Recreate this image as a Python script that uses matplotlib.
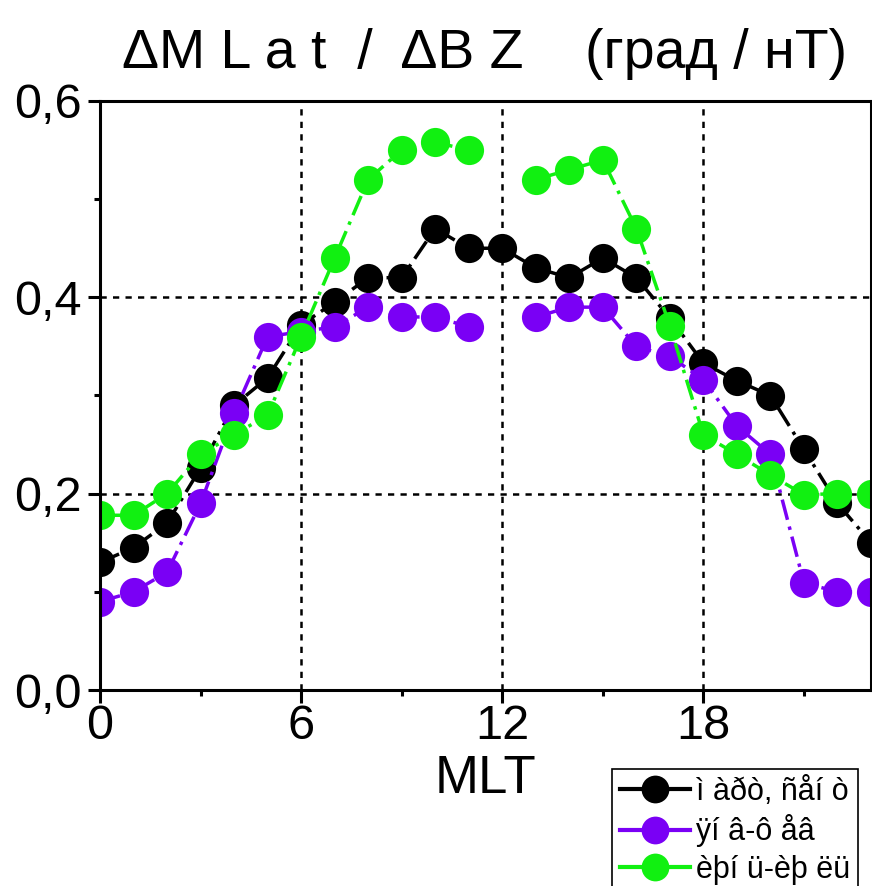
import numpy as np
import matplotlib
matplotlib.use('Agg')
import matplotlib.pyplot as plt
from matplotlib.lines import Line2D
from matplotlib.ticker import MultipleLocator, FuncFormatter

# MLT hours, 0..23
mlt = np.arange(24)

# ΔMLat/ΔBZ by season (no green/purple value at 12 MLT)
mar_sep = [0.13, 0.145, 0.17, 0.226, 0.29, 0.318, 0.372, 0.395, 0.42, 0.42, 0.47, 0.45,
           0.45, 0.43, 0.42, 0.44, 0.42, 0.379, 0.333, 0.315, 0.30, 0.245, 0.19, 0.15]
jan_feb = [0.09, 0.10, 0.12, 0.19, 0.282, 0.36, 0.365, 0.37, 0.39, 0.38, 0.38, 0.37,
           np.nan, 0.38, 0.39, 0.39, 0.35, 0.34, 0.316, 0.269, 0.24, 0.109, 0.10, 0.10]
jun_jul = [0.178, 0.178, 0.20, 0.24, 0.26, 0.28, 0.36, 0.44, 0.52, 0.55, 0.558, 0.55,
           np.nan, 0.52, 0.53, 0.54, 0.47, 0.371, 0.26, 0.24, 0.219, 0.199, 0.20, 0.20]

labels = ['ì àðò, ñåí ò', 'ÿí â-ô åâ', 'èþí ü-èþ ëü']
colors = ['#000000', '#7a00f5', '#11f011']

plt.rcParams['font.family'] = ['Liberation Sans', 'DejaVu Sans']

fig = plt.figure(figsize=(8.72, 8.86), dpi=100)
ax = fig.add_axes([100 / 872, 1 - 690 / 886, 771 / 872, 589 / 886])

dash = (0, (6, 2, 1, 2))
for ys, c in zip([mar_sep, jan_feb, jun_jul], colors):
    ax.plot(mlt, ys, color=c, lw=2.5, ls=dash, marker='o', ms=21,
            markeredgewidth=0, markerfacecolor=c)

ax.set_xlim(0, 23)
ax.set_ylim(0, 0.6)
ax.xaxis.set_major_locator(MultipleLocator(6))
ax.xaxis.set_minor_locator(MultipleLocator(3))
ax.yaxis.set_major_locator(MultipleLocator(0.2))
ax.yaxis.set_minor_locator(MultipleLocator(0.1))
ax.yaxis.set_major_formatter(FuncFormatter(lambda v, p: f'{v:.1f}'.replace('.', ',')))

for s in ax.spines.values():
    s.set_linewidth(2.2)
ax.tick_params(which='major', direction='out', length=9, width=2.2, labelsize=35)
ax.tick_params(which='minor', direction='out', length=4, width=2.2)
ax.tick_params(axis='x', which='major', pad=1)
ax.tick_params(axis='y', which='major', pad=4)

# dotted grid at the inner major ticks only
for gx in [6, 12, 18]:
    ax.axvline(gx, color='black', lw=1.8, ls=(0, (2.5, 2.5)), zorder=0.5)
for gy in [0.2, 0.4]:
    ax.axhline(gy, color='black', lw=1.8, ls=(0, (2.5, 2.5)), zorder=0.5)

ax.set_xlabel('MLT', fontsize=38, labelpad=4)

fig.text(0.556, 1 - 68 / 886, 'ΔM L a t  /  ΔB Z    (град / нТ)',
         fontsize=40, ha='center', va='baseline',
         family=['Liberation Sans Narrow', 'Liberation Sans', 'DejaVu Sans'])

handles = [Line2D([], [], color=c, lw=3, marker='o', ms=20, markeredgewidth=0)
           for c in colors]
leg = fig.legend(handles, labels, loc='upper left',
                 bbox_to_anchor=(612 / 872, 1 - 769 / 886),
                 fontsize=22, handlelength=2.3, handletextpad=0.2,
                 borderpad=0.25, labelspacing=0.25, borderaxespad=0,
                 fancybox=False, framealpha=1, edgecolor='black')
leg.get_frame().set_linewidth(1.2)

fig.savefig('out.png', dpi=100)
